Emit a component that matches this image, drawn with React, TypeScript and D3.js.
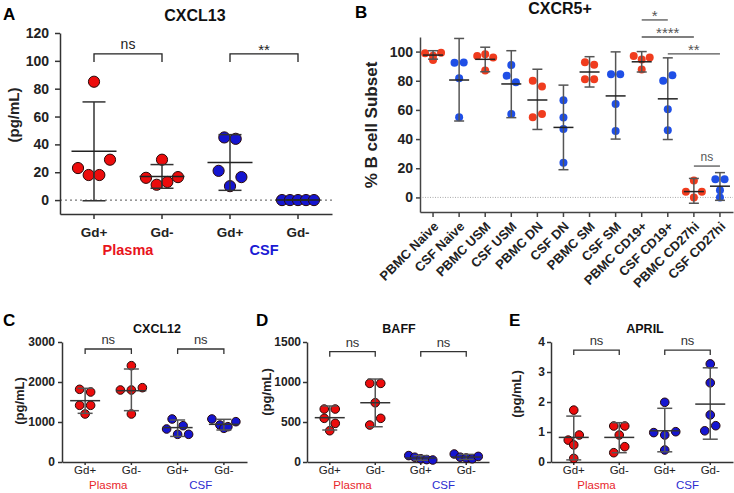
import React, { useEffect, useRef } from "react";
import * as d3 from "d3";

const W = 734;
const H = 493;
const FONT = "'Liberation Sans', Arial, Helvetica, sans-serif";

// ---------- shared categories ----------
const gdCats = ["Gd+", "Gd-", "Gd+", "Gd-"];
const fluidNames = ["Plasma", "CSF"];

// ---------- Panel A: CXCL13 ----------
const aValues = [
  [85, 23, 18, 18, 29],
  [29, 16, 11, 13, 16.5],
  [45, 44, 21, 10, 16.5],
  [0, 0, 0, 0, 0],
];
const aMean = [35, 17, 27, 0];
const aLow = [-0.5, 8.5, 7, 0];
const aHigh = [70.5, 25.5, 47, 0];
const aTicks = [0, 20, 40, 60, 80, 100, 120];
const aSig = [
  { from: 0, to: 1, label: "ns", at: 105 },
  { from: 2, to: 3, label: "**", at: 105 },
];

// ---------- Panel B: CXCR5+ ----------
const bCats = [
  "PBMC Naive", "CSF Naive", "PBMC USM", "CSF USM", "PBMC DN", "CSF DN",
  "PBMC SM", "CSF SM", "PBMC CD19+", "CSF CD19+", "PBMC CD27hi", "CSF CD27hi",
];
const bValues = [
  [98.8, 97.2, 99.2, 94.2],
  [92.4, 92.6, 81.7, 54.9],
  [97, 98.1, 96, 87],
  [90.8, 83.5, 79, 57.2],
  [80, 76, 55, 57.2],
  [66.7, 54.8, 47, 23.7],
  [92.7, 91, 81, 81],
  [84.5, 84.5, 64, 45.6],
  [97, 94.5, 96, 87.7],
  [80, 83.8, 60.5, 46],
  [11.6, 3.9, 0, 3.9],
  [12.5, 12.5, 5, 0],
];
const bMean = [97.6, 80.5, 94.7, 77.8, 66.8, 48, 86, 69.6, 93, 67.6, 4, 7.7];
const bLow = [94.8, 52.4, 86.2, 54.7, 46.6, 19, 75.7, 40, 86, 39.7, -4, -2];
const bHigh = [100.6, 109, 103, 100.6, 87.9, 77, 96.5, 99.8, 100, 95.7, 13, 17];
const bTicks = [0, 20, 40, 60, 80, 100];
const bSig = [
  { from: 8, to: 9, label: "*", at: 121.7 },
  { from: 8, to: 10, label: "****", at: 110 },
  { from: 9, to: 11, label: "**", at: 98.4 },
  { from: 10, to: 11, label: "ns", at: 21.5 },
];

// ---------- Panel C: CXCL12 ----------
const cValues = [
  [1817, 1750, 1417, 1417, 1200],
  [2408, 1800, 1800, 1858, 1200],
  [1075, 825, 908, 692, 692],
  [1075, 925, 842, 883, 1008],
];
const cMean = [1533, 1783, 860, 942];
const cLow = [1217, 1283, 640, 800];
const cHigh = [1842, 2325, 1050, 1067];
const cTicks = [0, 1000, 2000, 3000];
const cSig = [
  { from: 0, to: 1, label: "ns", at: 2825 },
  { from: 2, to: 3, label: "ns", at: 2825 },
];

// ---------- Panel D: BAFF ----------
const dValues = [
  [662, 662, 546, 483, 391],
  [983, 983, 741, 462, 546],
  [80, 60, 40, 30, 25],
  [100, 60, 50, 40, 70],
];
const dMean = [554, 741, 50, 62];
const dLow = [400, 441, 22, 32];
const dHigh = [700, 1037, 80, 95];
const dTicks = [0, 500, 1000, 1500];
const dSig = [
  { from: 0, to: 1, label: "ns", at: 1379 },
  { from: 2, to: 3, label: "ns", at: 1379 },
];

// ---------- Panel E: APRIL ----------
const eValues = [
  [1.73, 0.73, 0.9, 0.57, 0.12],
  [1.2, 1.2, 0.9, 0.31, 0.51],
  [1.99, 0.98, 0.9, 1.01, 0.4],
  [3.27, 2.64, 1.57, 1.04, 1.21],
];
const eMean = [0.82, 0.82, 1.04, 1.93];
const eLow = [0.07, 0.31, 0.34, 0.76];
const eHigh = [1.53, 1.31, 1.79, 3.14];
const eTicks = [0, 1, 2, 3, 4];
const eSig = [
  { from: 0, to: 1, label: "ns", at: 3.73 },
  { from: 2, to: 3, label: "ns", at: 3.73 },
];

// ---------- helpers ----------
function swarmOffsets(vals: number[], y: (v: number) => number, sMax: number, binH: number, maxW: number) {
  const idx = vals.map((_, i) => i).sort((a, b) => y(vals[a]) - y(vals[b]) || a - b);
  const rows: number[][] = [];
  let cur: number[] = [];
  let start = 0;
  for (const i of idx) {
    const py = y(vals[i]);
    if (cur.length && py - start > binH) {
      rows.push(cur);
      cur = [];
    }
    if (!cur.length) start = py;
    cur.push(i);
  }
  if (cur.length) rows.push(cur);
  const off = new Array(vals.length).fill(0);
  for (const row of rows) {
    row.sort((a, b) => a - b);
    const n = row.length;
    const s = n > 1 ? Math.min(sMax, maxW / (n - 1)) : 0;
    row.forEach((i, k) => (off[i] = (k - (n - 1) / 2) * s));
  }
  return off;
}

type Sig = { from: number; to: number; label: string; at: number };

interface PanelCfg {
  values: number[][];
  mean: number[];
  low: number[];
  high: number[];
  cats: string[];
  yDomain: [number, number];
  yRange: [number, number];
  yTicks: number[];
  xRange: [number, number];
  xAxisY: number;
  fills: string[];
  stroke: string;
  r: number;
  sMax: number;
  binH: number;
  maxW: number;
  meanW: number;
  capW: number;
  meanColor: string;
  barColor: string;
  sig: Sig[];
  sigDrop: number;
  sigColor: string;
  sigSize: number;
  sigAstSize: number;
  tickSize: number;
  tickPad: number;
  tickFont: number;
  xTickSize: number;
  xTickPad: number;
  catFont: number;
  catWeight: string;
  rotateCats?: boolean;
  groups?: { names: string[]; colors: string[]; size: number; weight: string; y: number };
  zeroLine?: { color: string; dash: string; width: number };
  title: string;
  titleX: number;
  titleY: number;
  titleSize: number;
  letter: string;
  letterX: number;
  letterY: number;
  letterSize: number;
  ylabel: string;
  ylabelX: number;
  ylabelY: number;
  ylabelSize: number;
  axisColor: string;
}

function drawPanel(root: d3.Selection<SVGGElement, unknown, null, undefined>, c: PanelCfg) {
  const g = root.append("g");
  const y = d3.scaleLinear().domain(c.yDomain).range(c.yRange);
  const x = d3.scaleBand<number>().domain(c.cats.map((_, i) => i)).range(c.xRange);
  const cx = (i: number) => (x(i) as number) + x.bandwidth() / 2;
  const x0 = c.xRange[0];

  if (c.zeroLine) {
    g.append("line")
      .attr("x1", x0).attr("x2", c.xRange[1])
      .attr("y1", y(0)).attr("y2", y(0))
      .attr("stroke", c.zeroLine.color)
      .attr("stroke-width", c.zeroLine.width)
      .attr("stroke-dasharray", c.zeroLine.dash);
  }

  const ya = g.append("g").attr("transform", `translate(${x0},0)`)
    .call(d3.axisLeft(y).tickValues(c.yTicks).tickSize(c.tickSize).tickSizeOuter(0).tickPadding(c.tickPad).tickFormat(d3.format("d")));
  ya.select(".domain").attr("stroke", c.axisColor).attr("stroke-width", 1.5);
  ya.selectAll(".tick line").attr("stroke", c.axisColor).attr("stroke-width", 1.5);
  ya.selectAll(".tick text").attr("font-family", FONT).attr("font-size", c.tickFont)
    .attr("font-weight", "bold").attr("fill", "#222");

  const xa = g.append("g").attr("transform", `translate(0,${c.xAxisY})`)
    .call(d3.axisBottom(x).tickSize(c.xTickSize).tickSizeOuter(0).tickPadding(c.xTickPad).tickFormat((i) => c.cats[i as number]));
  xa.select(".domain").attr("stroke", c.axisColor).attr("stroke-width", 1.5);
  xa.selectAll(".tick line").attr("stroke", c.axisColor).attr("stroke-width", 1.5);
  const xt = xa.selectAll(".tick text").attr("font-family", FONT).attr("font-size", c.catFont)
    .attr("font-weight", c.catWeight).attr("fill", "#222");
  if (c.rotateCats) {
    xt.attr("y", 0).attr("x", 0).attr("dy", "0.35em")
      .attr("text-anchor", "end")
      .attr("transform", `translate(3,${c.xTickSize + 7}) rotate(-45)`);
  }

  if (c.groups) {
    const gr = c.groups;
    gr.names.forEach((name, k) => {
      g.append("text")
        .attr("x", (cx(2 * k) + cx(2 * k + 1)) / 2)
        .attr("y", gr.y)
        .attr("text-anchor", "middle")
        .attr("font-family", FONT)
        .attr("font-size", gr.size)
        .attr("font-weight", gr.weight)
        .attr("fill", gr.colors[k])
        .text(name);
    });
  }

  c.values.forEach((vals, i) => {
    const off = swarmOffsets(vals, y, c.sMax, c.binH, c.maxW);
    g.append("g").selectAll("circle").data(vals).join("circle")
      .attr("cx", (_, k) => cx(i) + off[k])
      .attr("cy", (v) => y(v))
      .attr("r", c.r)
      .attr("fill", c.fills[i])
      .attr("stroke", c.stroke)
      .attr("stroke-width", c.stroke === "none" ? 0 : 1);
  });

  c.mean.forEach((m, i) => {
    const xc = cx(i);
    const eg = g.append("g");
    eg.append("line").attr("x1", xc).attr("x2", xc).attr("y1", y(c.low[i])).attr("y2", y(c.high[i]))
      .attr("stroke", c.barColor).attr("stroke-width", 1.5);
    [c.low[i], c.high[i]].forEach((v) => {
      eg.append("line").attr("x1", xc - c.capW / 2).attr("x2", xc + c.capW / 2).attr("y1", y(v)).attr("y2", y(v))
        .attr("stroke", c.barColor).attr("stroke-width", 1.5);
    });
    eg.append("line").attr("x1", xc - c.meanW / 2).attr("x2", xc + c.meanW / 2).attr("y1", y(m)).attr("y2", y(m))
      .attr("stroke", c.meanColor).attr("stroke-width", 1.5);
  });

  c.sig.forEach((s) => {
    const ly = y(s.at);
    const xa1 = cx(s.from);
    const xa2 = cx(s.to);
    const path = c.sigDrop > 0
      ? `M${xa1},${ly + c.sigDrop}V${ly}H${xa2}V${ly + c.sigDrop}`
      : `M${xa1},${ly}H${xa2}`;
    g.append("path").attr("d", path).attr("fill", "none").attr("stroke", c.sigColor).attr("stroke-width", 1.3);
    const ast = s.label.includes("*");
    g.append("text")
      .attr("x", (xa1 + xa2) / 2)
      .attr("y", ast ? ly + 1 : ly - 5)
      .attr("text-anchor", "middle")
      .attr("font-family", FONT)
      .attr("font-size", ast ? c.sigAstSize : c.sigSize)
      .attr("fill", c.sigColor)
      .text(s.label);
  });

  g.append("text").attr("x", c.titleX).attr("y", c.titleY).attr("text-anchor", "middle")
    .attr("font-family", FONT).attr("font-size", c.titleSize).attr("font-weight", "bold").attr("fill", "#111").text(c.title);
  g.append("text").attr("x", c.letterX).attr("y", c.letterY)
    .attr("font-family", FONT).attr("font-size", c.letterSize).attr("font-weight", "bold").attr("fill", "#000").text(c.letter);
  g.append("text")
    .attr("transform", `translate(${c.ylabelX},${c.ylabelY}) rotate(-90)`)
    .attr("text-anchor", "middle")
    .attr("font-family", FONT).attr("font-size", c.ylabelSize).attr("font-weight", "bold").attr("fill", "#222")
    .text(c.ylabel);
}

const RED_A = "#ec0c0c";
const BLUE_A = "#1515d0";
const RED_B = "#f03c1e";
const BLUE_B = "#1f4fe6";

export default function App() {
  const ref = useRef<SVGSVGElement>(null);
  useEffect(() => {
    const svg = d3.select(ref.current as SVGSVGElement);
    svg.selectAll("*").remove();
    const root = svg.append("g") as unknown as d3.Selection<SVGGElement, unknown, null, undefined>;

    const small = {
      cats: gdCats,
      yRange: [462, 342] as [number, number],
      xAxisY: 462,
      fills: [RED_A, RED_A, BLUE_A, BLUE_A],
      stroke: "#2a0a0a",
      r: 4.3,
      sMax: 11,
      binH: 8.4,
      maxW: 24,
      meanW: 30,
      capW: 15,
      meanColor: "#333",
      barColor: "#555",
      sigDrop: 5,
      sigColor: "#333",
      sigSize: 13,
      sigAstSize: 14,
      tickSize: 4,
      tickPad: 3,
      tickFont: 12,
      xTickSize: 3,
      xTickPad: 1,
      catFont: 11.5,
      catWeight: "normal",
      titleY: 333,
      titleSize: 12.5,
      letterY: 326,
      letterSize: 17,
      ylabel: "(pg/mL)",
      ylabelSize: 13,
      axisColor: "#333",
    };
    const smallGroups = { names: fluidNames, colors: ["#e8262b", "#2b2bd0"], size: 11.5, weight: "normal", y: 489 };

    drawPanel(root, {
      values: aValues, mean: aMean, low: aLow, high: aHigh, cats: gdCats,
      yDomain: [-10, 120], yRange: [214, 33], yTicks: aTicks,
      xRange: [60, 332], xAxisY: 214,
      fills: [RED_A, RED_A, BLUE_A, BLUE_A], stroke: "#2a0a0a",
      r: 5.6, sMax: 11.4, binH: 15.7, maxW: 32, meanW: 45, capW: 23,
      meanColor: "#222", barColor: "#333",
      sig: aSig, sigDrop: 8, sigColor: "#222", sigSize: 14, sigAstSize: 15,
      tickSize: 5, tickPad: 6, tickFont: 14, xTickSize: 5, xTickPad: 8, catFont: 13.5, catWeight: "bold",
      groups: { names: fluidNames, colors: ["#e8141b", "#1a1ad4"], size: 14.5, weight: "bold", y: 255 },
      zeroLine: { color: "#777", dash: "2,3", width: 1.2 },
      title: "CXCL13", titleX: 195, titleY: 21, titleSize: 16,
      letter: "A", letterX: 3, letterY: 20, letterSize: 17,
      ylabel: "(pg/mL)", ylabelX: 19, ylabelY: 115, ylabelSize: 15,
      axisColor: "#333",
    });

    drawPanel(root, {
      values: bValues, mean: bMean, low: bLow, high: bHigh, cats: bCats,
      yDomain: [-10, 110], yRange: [212, 37], yTicks: bTicks,
      xRange: [420, 733], xAxisY: 212,
      fills: bCats.map((_, i) => (i % 2 === 0 ? RED_B : BLUE_B)), stroke: "none",
      r: 4, sMax: 9.2, binH: 6.8, maxW: 16, meanW: 20, capW: 10,
      meanColor: "#222", barColor: "#555",
      sig: bSig, sigDrop: 0, sigColor: "#555", sigSize: 12, sigAstSize: 15,
      tickSize: 4, tickPad: 3, tickFont: 14, xTickSize: 5, xTickPad: 3, catFont: 13, catWeight: "bold",
      rotateCats: true,
      zeroLine: { color: "#aaa", dash: "1,1.5", width: 1 },
      title: "CXCR5+", titleX: 560, titleY: 14, titleSize: 16,
      letter: "B", letterX: 355, letterY: 18, letterSize: 17,
      ylabel: "% B cell Subset", ylabelX: 377, ylabelY: 125, ylabelSize: 17,
      axisColor: "#444",
    });

    drawPanel(root, {
      ...small,
      values: cValues, mean: cMean, low: cLow, high: cHigh,
      yDomain: [0, 3000], yTicks: cTicks, xRange: [62, 247],
      sig: cSig, groups: smallGroups,
      title: "CXCL12", titleX: 157, letter: "C", letterX: 3,
      ylabelX: 24, ylabelY: 401,
    });

    drawPanel(root, {
      ...small,
      values: dValues, mean: dMean, low: dLow, high: dHigh,
      yDomain: [0, 1500], yTicks: dTicks, xRange: [307, 489],
      tickPad: 2,
      sig: dSig, groups: smallGroups,
      title: "BAFF", titleX: 399, letter: "D", letterX: 256,
      ylabelX: 271, ylabelY: 392,
    });

    drawPanel(root, {
      ...small,
      values: eValues, mean: eMean, low: eLow, high: eHigh,
      yDomain: [0, 4], yTicks: eTicks, xRange: [551, 733],
      tickPad: 2,
      sig: eSig, groups: smallGroups,
      title: "APRIL", titleX: 645, letter: "E", letterX: 509,
      ylabelX: 521, ylabelY: 394,
    });
  }, []);

  return (
    <svg
      ref={ref}
      width={W}
      height={H}
      viewBox={`0 0 ${W} ${H}`}
      style={{ position: "absolute", left: 0, top: 0, background: "#fff" }}
    />
  );
}
